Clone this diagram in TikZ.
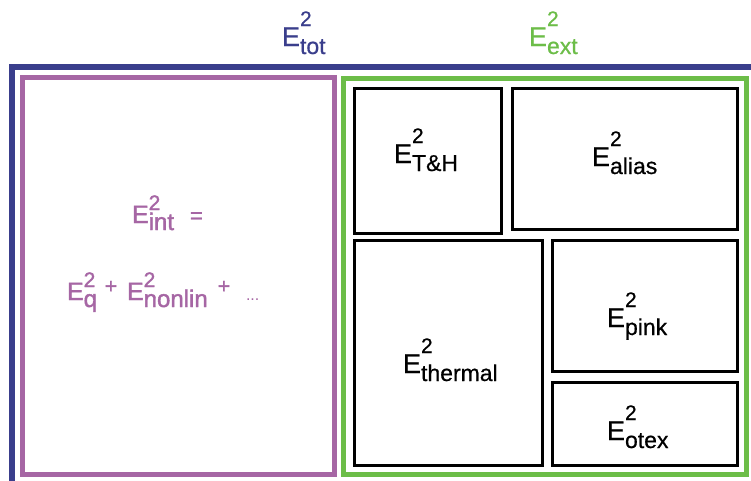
\documentclass[tikz,border=0pt]{standalone}
\usepackage{fontspec}
\setmainfont{Liberation Sans}
\newfontfamily\bfake{Liberation Sans}[FakeBold=0.6]
\newfontfamily\pfake{Liberation Sans}[FakeBold=1.6]
\definecolor{cblue}{RGB}{58,62,140}
\definecolor{cpurple}{RGB}{166,102,164}
\definecolor{cgreen}{RGB}{108,189,72}
% black-style label: E with stacked 2 and subscript
\newcommand{\Eb}[1]{\bfake{\fontsize{27}{27}\selectfont E}\rlap{\raisebox{20pt}{\fontsize{21}{21}\selectfont 2}}\raisebox{-8pt}{\fontsize{23}{23}\selectfont #1}}
% purple-style label
\newcommand{\Ep}[1]{\pfake{\fontsize{25}{25}\selectfont E}\rlap{\raisebox{13pt}{\fontsize{21}{21}\selectfont 2}}\raisebox{-7pt}{\fontsize{24}{24}\selectfont #1}}
\tikzset{
  boxbase/.style={draw, rectangle, inner sep=0pt, outer sep=0pt},
  outerbox/.style={boxbase, line width=5pt},
  innerbox/.style={boxbase, black, line width=3pt},
  lab/.style={inner sep=0pt, outer sep=0pt, anchor=base west},
  plus/.style={text=cpurple, inner sep=0pt, font=\pfake\fontsize{21}{21}\selectfont},
}
\begin{document}
\begin{tikzpicture}[x=1pt, y=-1pt]
\clip (0,0) rectangle (751,480);
\fill[white] (0,0) rectangle (751,480);
% total frame (extends beyond the picture)
\coordinate (bl) at (12,490);
\coordinate (tl) at (12,67);
\coordinate (tr) at (770,67);
\draw[cblue, line width=5.5pt] (bl) -- (tl) -- (tr);
% outer boxes
\node[outerbox, cpurple, minimum width=311.5pt, minimum height=397pt] (int) at (178.25,276) {};
\node[outerbox, cgreen, minimum width=403pt, minimum height=396.5pt] (ext) at (545,276.25) {};
% inner boxes
\node[innerbox, minimum width=147pt, minimum height=145.5pt] (th) at (428,160.75) {};
\node[innerbox, minimum width=225pt, minimum height=141.5pt] (alias) at (624.5,158.75) {};
\node[innerbox, minimum width=187.5pt, minimum height=225pt] (thermal) at (448.25,353) {};
\node[innerbox, minimum width=185pt, minimum height=131pt] (pink) at (644.5,306) {};
\node[innerbox, minimum width=185pt, minimum height=83pt] (otex) at (644.5,424) {};
% header labels
\node[lab, text=cblue] (ltot) at (282,46) {\Eb{tot}};
\node[lab, text=cgreen] (lext) at (529,46) {\Eb{ext}};
% inner labels
\node[lab] (lth) at (394,163) {\Eb{T\&H}};
\node[lab] (lalias) at (592,166) {\Eb{alias}};
\node[lab] (lthermal) at (403,373) {\Eb{thermal}};
\node[lab] (lpink) at (607,327) {\Eb{pink}};
\node[lab] (lotex) at (607,440) {\Eb{otex}};
% internal error labels
\node[lab, text=cpurple] (lint) at (132,223) {\Ep{int}};
\node[lab, text=cpurple, font=\pfake\fontsize{22}{22}\selectfont] (leq) at (190,223) {=};
\node[lab, text=cpurple] (lq) at (67,300) {\Ep{q}};
\node[plus] (p1) at (111,287) {+};
\node[lab, text=cpurple] (lnl) at (127,300) {\Ep{nonlin}};
\node[plus] (p2) at (224,287) {+};
\node[lab, text=cpurple, font=\fontsize{16}{16}\selectfont] (dots) at (246,300) {...};
\end{tikzpicture}
\end{document}
